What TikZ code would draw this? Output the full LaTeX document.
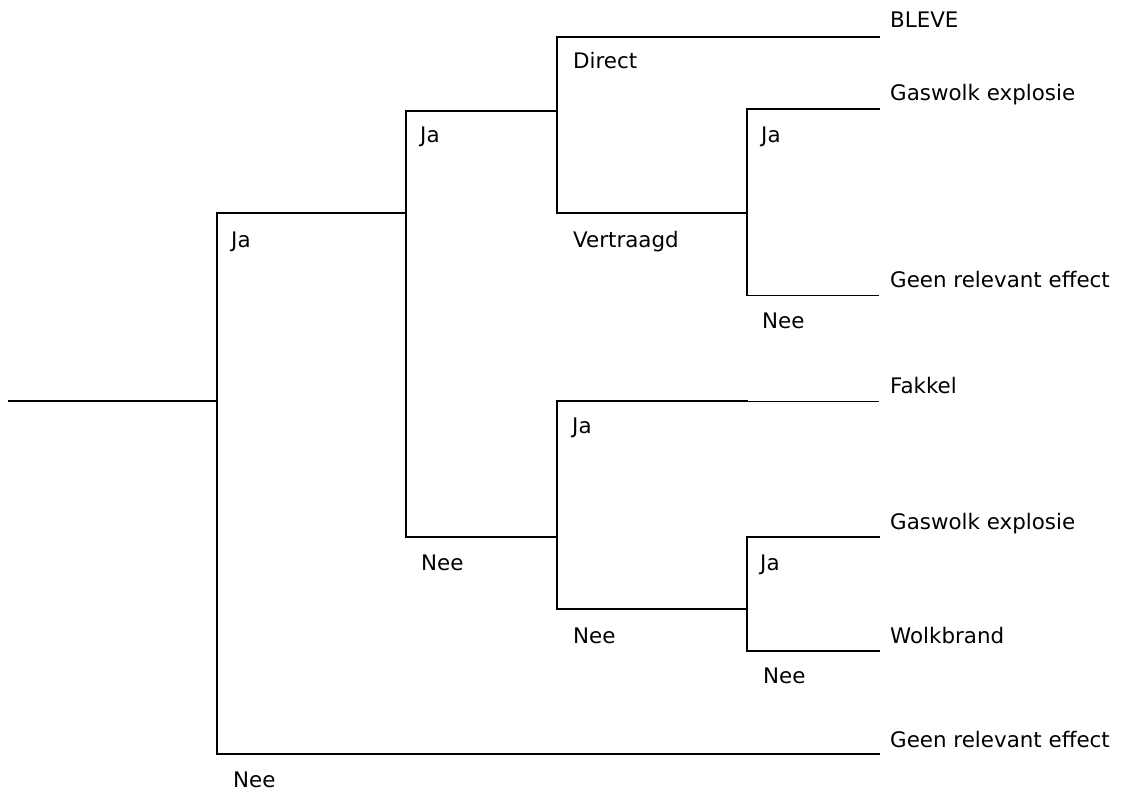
\documentclass[tikz,border=0pt]{standalone}
\usepackage{fontspec}
\setmainfont{DejaVu Sans}
\begin{document}
\begin{tikzpicture}[x=1pt,y=-1pt,
  branch/.style={line width=2.2pt,line cap=rect},
  leaf/.style={line width=1pt},
  lbl/.style={anchor=base west,inner sep=0pt,font=\fontsize{21.4}{25}\selectfont},
  outcome/.style={lbl}]
\useasboundingbox (0,0) rectangle (1122,792);

% branch points
\coordinate (root) at (9,401);
\coordinate (n1t) at (217,213);
\coordinate (n1m) at (217,401);
\coordinate (n1b) at (217,754);
\coordinate (n2t) at (406,111);
\coordinate (n2m) at (406,213);
\coordinate (n2b) at (406,537);
\coordinate (n3t) at (557,37);
\coordinate (n3m) at (557,111);
\coordinate (n3b) at (557,213);
\coordinate (n4t) at (557,401);
\coordinate (n4m) at (557,537);
\coordinate (n4b) at (557,609);
\coordinate (n5t) at (747,109);
\coordinate (n5m) at (747,213);
\coordinate (n5b) at (747,295);
\coordinate (n6t) at (747,537);
\coordinate (n6m) at (747,609);
\coordinate (n6b) at (747,651);
\coordinate (f1) at (747,401);
% branch ends
\coordinate (e1) at (879,37);
\coordinate (e2) at (879,109);
\coordinate (e3) at (879,295);
\coordinate (e4) at (879,401);
\coordinate (e5) at (879,537);
\coordinate (e6) at (879,651);
\coordinate (e7) at (879,754);

% tree
\draw[branch] (root) -- (n1m);
\draw[branch] (n1t) -- (n1b);
\draw[branch] (n1t) -- (n2m);
\draw[branch] (n1b) -- (e7);
\draw[branch] (n2t) -- (n2b);
\draw[branch] (n2t) -- (n3m);
\draw[branch] (n2b) -- (n4m);
\draw[branch] (n3t) -- (n3b);
\draw[branch] (n3t) -- (e1);
\draw[branch] (n3b) -- (n5m);
\draw[branch] (n5t) -- (n5b);
\draw[branch] (n5t) -- (e2);
\draw[leaf] (n5b) -- (e3);
\draw[branch] (n4t) -- (n4b);
\draw[branch] (n4t) -- (f1);
\draw[leaf] (f1) -- (e4);
\draw[branch] (n4b) -- (n6m);
\draw[branch] (n6t) -- (n6b);
\draw[branch] (n6t) -- (e5);
\draw[branch] (n6b) -- (e6);

% branch labels
\node[lbl] (l1) at (231,247) {Ja};
\node[lbl] (l2) at (233,787) {Nee};
\node[lbl] (l3) at (420,142) {Ja};
\node[lbl] (l4) at (421,570) {Nee};
\node[lbl] (l5) at (573,69) {Direct};
\node[lbl] (l6) at (573,247) {Vertraagd};
\node[lbl] (l7) at (761,142) {Ja};
\node[lbl] (l8) at (762,328) {Nee};
\node[lbl] (l9) at (572,433) {Ja};
\node[lbl] (l10) at (573,643) {Nee};
\node[lbl] (l11) at (760,570) {Ja};
\node[lbl] (l12) at (763,683) {Nee};

% outcomes
\node[outcome] (o1) at (890,28) {BLEVE};
\node[outcome] (o2) at (890,100) {Gaswolk explosie};
\node[outcome] (o3) at (890,287) {Geen relevant effect};
\node[outcome] (o4) at (890,393) {Fakkel};
\node[outcome] (o5) at (890,529) {Gaswolk explosie};
\node[outcome] (o6) at (890,643) {Wolkbrand};
\node[outcome] (o7) at (890,747) {Geen relevant effect};
\end{tikzpicture}
\end{document}
